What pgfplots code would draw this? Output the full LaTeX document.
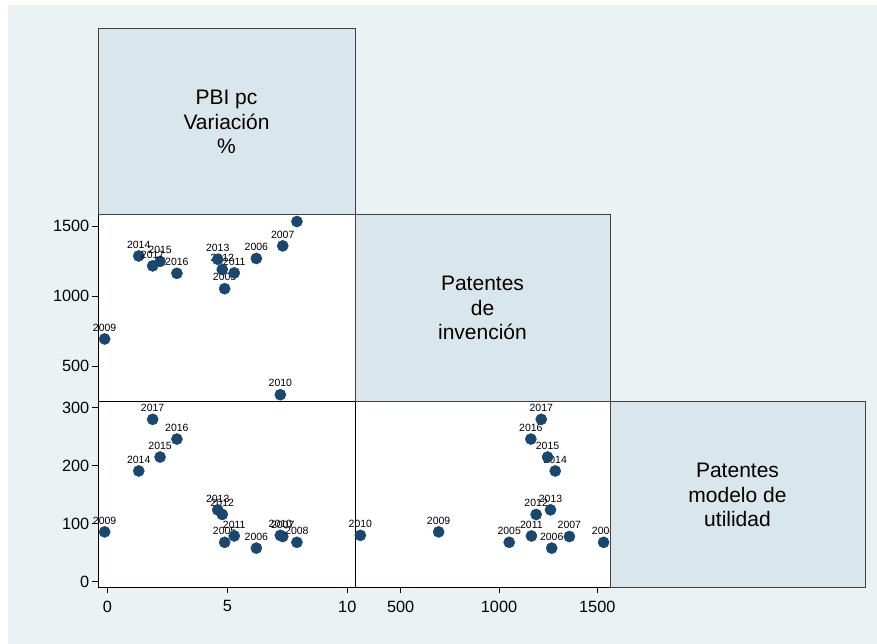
\documentclass[border=0pt]{standalone}
\usepackage{pgfplots}
\pgfplotsset{compat=1.18}
\usepackage{pgfplotstable}
\usepackage{fontspec}
\setmainfont{Liberation Sans}
\definecolor{bgc}{HTML}{EAF2F3}
\definecolor{cellc}{HTML}{D9E6EB}
\definecolor{mk}{HTML}{1A476F}

\pgfplotstableread{
year pbi pi pmu
2005 4.89 1052 68
2006 6.21 1268 58
2007 7.31 1358 78
2008 7.90 1532 68
2009 -0.11 693 86
2010 7.21 295 80
2011 5.29 1165 79
2012 4.79 1189 116
2013 4.60 1262 124
2014 1.31 1286 191
2015 2.20 1247 215
2016 2.90 1162 246
2017 1.89 1215 280
}\data

\pgfplotsset{mat/.style={
  scale only axis, anchor=south west,
  axis background/.style={fill=white},
  clip=false,
  tick align=outside, major tick length=6.5pt,
  every tick/.style={black, line width=0.8pt},
  axis line style={line width=0.9pt},
  tick label style={font=\fontsize{16.3}{18}\selectfont},
  yticklabel style={inner sep=2pt},
  xticklabel style={inner sep=1pt, yshift=-6pt},
  /pgf/number format/assume math mode=true,
  /pgf/number format/1000 sep={},
  xtick pos=bottom, ytick pos=left,
  nodes near coords,
  point meta=explicit symbolic,
  nodes near coords style={font=\fontsize{10.5}{12}\selectfont, anchor=south, inner sep=0pt, yshift=7.5pt, text=black},
}}

\begin{document}
\begin{tikzpicture}[x=1pt,y=1pt]
\useasboundingbox (0,0) rectangle (877,644);
\fill[white] (0,0) rectangle (877,644);
\fill[bgc] (8,0) rectangle (877,639);

% row 2 col 1: PBI vs PI
\begin{axis}[mat, at={(98pt,243pt)}, width=257pt, height=187pt,
  xmin=-0.3875, xmax=10.3208, ymin=250, ymax=1585.7,
  xtick=\empty, ytick={500,1000,1500}]
\addplot[only marks, mark=*, mark size=5.6pt, mark options={fill=mk, draw=mk}]
  table[x=pbi, y=pi, meta=year] {\data};
\end{axis}

% row 3 col 1: PBI vs PMU
\begin{axis}[mat, at={(98pt,57pt)}, width=257pt, height=186pt,
  xmin=-0.3875, xmax=10.3208, ymin=-9.0, ymax=311.6,
  xtick={0,5,10}, ytick={0,100,200,300}]
\addplot[only marks, mark=*, mark size=5.6pt, mark options={fill=mk, draw=mk}]
  table[x=pbi, y=pmu, meta=year] {\data};
\end{axis}

% row 3 col 2: PI vs PMU
\begin{axis}[mat, at={(355pt,57pt)}, width=255pt, height=186pt,
  xmin=267.55, xmax=1564.6, ymin=-9.0, ymax=311.6,
  xtick={500,1000,1500}, ytick=\empty]
\addplot[only marks, mark=*, mark size=5.6pt, mark options={fill=mk, draw=mk}]
  table[x=pi, y=pmu, meta=year] {\data};
\end{axis}

% label cells
\filldraw[fill=cellc, draw=black!75, line width=0.8pt] (98,430) rectangle (355,616);
\filldraw[fill=cellc, draw=black!75, line width=0.8pt] (355,243) rectangle (610,430);
\filldraw[fill=cellc, draw=black!75, line width=0.8pt] (610,57) rectangle (865,243);

\node[align=center, font=\fontsize{21}{24.5}\selectfont] at (226.5,522) {PBI pc\\Variación\\\%};
\node[align=center, font=\fontsize{21}{24.5}\selectfont] at (482.5,336) {Patentes\\de\\invención};
\node[align=center, font=\fontsize{21}{24.5}\selectfont] at (737.5,149) {Patentes\\modelo de\\utilidad};
\end{tikzpicture}
\end{document}
